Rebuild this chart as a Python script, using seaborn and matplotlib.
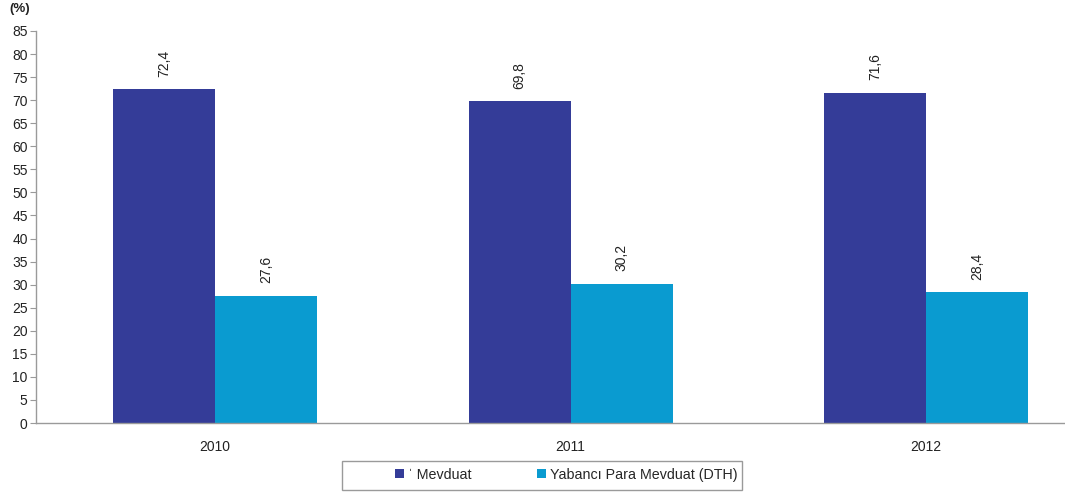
import matplotlib
matplotlib.use("Agg")
import matplotlib.pyplot as plt
from matplotlib.patches import Rectangle
import seaborn as sns
import pandas as pd

years = ["2010", "2011", "2012"]
series_names = ["ˈ Mevduat", "Yabancı Para Mevduat (DTH)"]
mevduat = [72.4, 69.8, 71.6]
dth = [27.6, 30.2, 28.4]
y_ticks = list(range(0, 90, 5))

df = pd.DataFrame({
    "year": years * 2,
    "series": [series_names[0]] * 3 + [series_names[1]] * 3,
    "value": mevduat + dth,
})

sns.set_theme(style="white")
plt.rcParams["font.family"] = ["Liberation Sans", "DejaVu Sans"]

fig = plt.figure(figsize=(10.65, 4.94), dpi=100)
ax = fig.add_axes([36 / 1065, 1 - 423 / 494, 1 - 36 / 1065, (423 - 31) / 494])

palette = ["#343C98", "#0A9BD0"]
sns.barplot(data=df, x="year", y="value", hue="series", palette=palette,
            width=0.573, ax=ax, saturation=1, legend=True, linewidth=0)

for container in ax.containers:
    labels = [f"{v:.1f}".replace(".", ",") for v in container.datavalues]
    ax.bar_label(container, labels=labels, rotation=90, padding=9, fontsize=10, color="#222222")

ax.set_ylim(0, 85)
ax.set_xlim(-0.503, 2.39)
ax.set_yticks(y_ticks)
ax.set_yticklabels([str(t) for t in y_ticks], fontsize=10, color="#222222")
ax.tick_params(axis="x", labelsize=10, colors="#222222", length=0, pad=12)
ax.tick_params(axis="y", left=True, length=4, width=0.8, color="#9a9a9a", pad=2)
ax.set_xlabel("")
ax.set_ylabel("")
for s in ["top", "right"]:
    ax.spines[s].set_visible(False)
for s in ["left", "bottom"]:
    ax.spines[s].set_color("#9a9a9a")
    ax.spines[s].set_linewidth(1.0)

fig.text(20 / 1065, 1 - 9 / 494, "(%)", fontsize=9.5, fontweight="bold", ha="center", va="center", color="#222222")

# legend frame
fig.patches.append(Rectangle((342 / 1065, 1 - 490 / 494), 400 / 1065, 29 / 494,
                             transform=fig.transFigure, fill=False, edgecolor="#9a9a9a",
                             linewidth=1.0))

handles, lbls = ax.get_legend_handles_labels()
ax.get_legend().remove()
leg = fig.legend(handles, lbls, loc="center left", bbox_to_anchor=(395 / 1065, 1 - 475 / 494),
                 ncol=2, fontsize=10.3, frameon=False,
                 handlelength=0.6, handleheight=0.6, handletextpad=0.3, columnspacing=4.6,
                 borderpad=0.0, borderaxespad=0.0)

fig.savefig("out.png", dpi=100)
